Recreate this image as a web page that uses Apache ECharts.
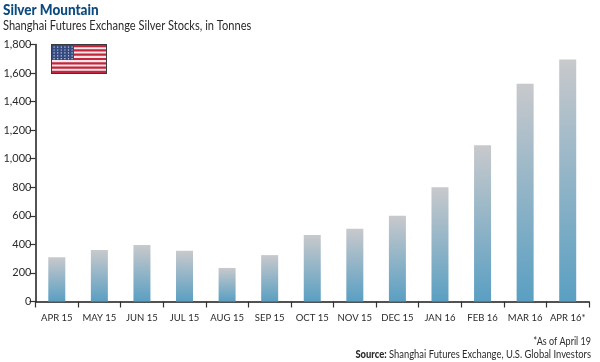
<!DOCTYPE html>
<html><head><meta charset="utf-8">
<style>html,body{margin:0;padding:0;background:#fff}#c{width:600px;height:362px}</style>
<script src="https://cdn.jsdelivr.net/npm/echarts@6/dist/echarts.min.js"></script>
</head><body><div id="c"></div>
<script>
const categories = ['APR 15','MAY 15','JUN 15','JUL 15','AUG 15','SEP 15','OCT 15','NOV 15','DEC 15','JAN 16','FEB 16','MAR 16','APR 16*'];
const stocks = [310,360,395,355,235,325,465,510,600,800,1095,1525,1695];
const title = 'Silver Mountain';
const subtitle = 'Shanghai Futures Exchange Silver Stocks, in Tonnes';
const noteLine = '*As of April 19';
const sourceLabel = 'Source:';
const sourceText = ' Shanghai Futures Exchange, U.S. Global Investors';
const F = 'Lato';
const chart = echarts.init(document.getElementById('c'), null, {renderer:'canvas'});

const flag = [];
const fx=52, fy=45, fw=54, fh=28;
flag.push({type:'rect',shape:{x:fx-1,y:fy-1,width:fw+2,height:fh+2},style:{fill:'#3a3a3c'}});
flag.push({type:'rect',shape:{x:fx,y:fy,width:fw,height:fh},style:{fill:'#f3e6e8'}});
for(let i=0;i<7;i++){
  flag.push({type:'rect',shape:{x:fx,y:fy+i*fh*2/13,width:fw,height:fh/13},style:{fill:'#c4243c'}});
}
flag.push({type:'rect',shape:{x:fx,y:fy,width:22,height:15},style:{fill:'#34497f'}});
for(let r=0;r<5;r++)for(let k=0;k<6;k++){
  flag.push({type:'rect',shape:{x:fx+1.5+k*3.6,y:fy+1.5+r*2.9,width:1.2,height:1.2},style:{fill:'#c9d0e2'}});
}

chart.setOption({
  animation:false,
  backgroundColor:'#fff',
  grid:{left:35.5,right:11,top:44.5,bottom:60.5,containLabel:false},
  xAxis:{type:'category',data:categories,
    axisLine:{lineStyle:{color:'#1a1a1a',width:1.5}},
    axisTick:{show:true,alignWithLabel:false,length:6,lineStyle:{color:'#333',width:1.2}},
    axisLabel:{color:'#2b2b2b',fontFamily:F,fontSize:9.5,margin:11,interval:0}},
  yAxis:{type:'value',min:0,max:1800,interval:200,
    axisLine:{show:true,lineStyle:{color:'#1a1a1a',width:1.5}},
    axisTick:{show:true,length:6,lineStyle:{color:'#333',width:1.2}},
    splitLine:{show:false},
    axisLabel:{color:'#2b2b2b',fontFamily:F,fontSize:11,margin:4,
      formatter:v=>v.toLocaleString('en-US')}},
  series:[{type:'bar',data:stocks,barWidth:17,
    itemStyle:{color:{type:'linear',x:0,y:0,x2:0,y2:1,colorStops:[
      {offset:0,color:'#c8c9cc'},{offset:1,color:'#5a9fc2'}]}}}],
  graphic:[
    {type:'text',x:3,y:3,scaleX:0.9,style:{text:title,fill:'#0c4a7e',font:'900 15px '+F}},
    {type:'text',x:3,y:19,scaleX:0.853,style:{text:subtitle,fill:'#2b2b2b',font:'400 13px '+F}},
    {type:'text',x:591,y:336,scaleX:0.86,style:{text:noteLine,align:'right',fill:'#2b2b2b',font:'400 10.5px '+F}},
    {type:'text',x:591,y:349,scaleX:0.894,style:{align:'right',rich:{b:{font:'900 10.5px '+F,fill:'#2b2b2b'},n:{font:'400 10.5px '+F,fill:'#2b2b2b'}},text:'{b|'+sourceLabel+'}{n|'+sourceText+'}'}},
    {type:'group',children:flag}
  ]
});
</script></body></html>
